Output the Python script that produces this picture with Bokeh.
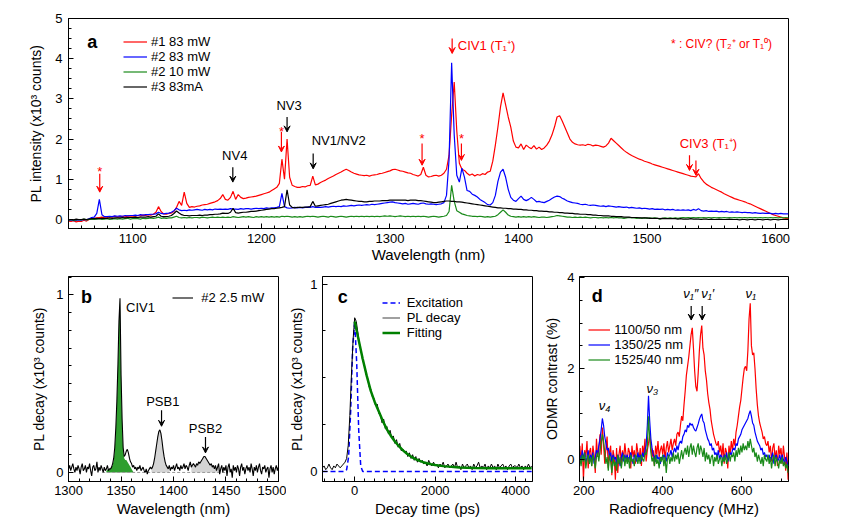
from bokeh.plotting import figure
from bokeh.models import (ColumnDataSource, Legend, LegendItem, Label, Arrow,
                          VeeHead, SingleIntervalTicker, Range1d)
from bokeh.layouts import column, row
from bokeh.embed import file_html
from bokeh.resources import INLINE

FONT = "Liberation Sans"
RED, BLUE, GREEN, BLACK = "#ff0000", "#0000ff", "#1a8a1a", "#000000"

# ---------------- panel a : PL spectra (x = wavelength, nm, 2 nm steps) ----------------
wl_a = list(range(1050, 1611, 2))
pl1_83mw = [
    -0.04, -0.05, -0.03, -0.06, -0.04,  -0.05, -0.02, -0.04, 0.00, 0.02,
    0.03, 0.04, 0.05, 0.06, 0.04,  0.05, 0.07, 0.06, 0.08, 0.06,
    0.07, 0.08, 0.06, 0.09, 0.08,  0.09, 0.08, 0.10, 0.09, 0.11,
    0.10, 0.12, 0.11, 0.13, 0.18,  0.32, 0.20, 0.14, 0.13, 0.15,
    0.16, 0.20, 0.30, 0.45, 0.35,  0.68, 0.40, 0.30, 0.32, 0.31,
    0.33, 0.34, 0.36, 0.37, 0.38,  0.40, 0.42, 0.44, 0.47, 0.52,
    0.62, 0.50, 0.48, 0.55, 0.70,  0.50, 0.62, 0.55, 0.52, 0.53,
    0.55, 0.56, 0.57, 0.58, 0.60,  0.62, 0.64, 0.66, 0.68, 0.72,
    0.76, 0.80, 0.90, 1.50, 1.00,  2.00, 1.05, 0.85, 0.82, 0.80,
    0.80, 0.82, 0.81, 0.84, 0.85,  1.08, 0.86, 0.88, 0.92, 0.95,
    0.98, 1.02, 1.05, 1.08, 1.12,  1.15, 1.18, 1.22, 1.25, 1.22,
    1.18, 1.15, 1.13, 1.11, 1.10,  1.09, 1.10, 1.08, 1.10, 1.11,
    1.12, 1.14, 1.15, 1.17, 1.19,  1.21, 1.24, 1.25, 1.23, 1.21,
    1.20, 1.18, 1.16, 1.15, 1.12,  1.10, 1.08, 1.12, 1.30, 1.10,
    1.06, 1.07, 1.09, 1.10, 1.08,  1.10, 1.15, 1.25, 1.60, 2.60,
    3.42, 2.20, 1.40, 1.25, 1.22,  1.15, 1.10, 1.13, 1.08, 1.12,
    1.10, 1.14, 1.12, 1.18, 1.20,  1.45, 1.85, 2.30, 2.80, 3.15,
    2.85, 2.55, 2.30, 1.95, 1.80,  1.78, 1.88, 1.74, 1.85, 1.80,
    1.76, 1.84, 1.75, 1.80, 1.74,  1.78, 1.85, 1.95, 2.10, 2.30,
    2.55, 2.58, 2.45, 2.30, 2.15,  2.00, 1.92, 1.88, 1.86, 1.85,
    1.86, 1.84, 1.87, 1.86, 1.83,  1.85, 1.84, 1.82, 1.80, 1.83,
    1.90, 2.02, 1.96, 1.90, 1.84,  1.78, 1.72, 1.67, 1.63, 1.59,
    1.56, 1.53, 1.50, 1.48, 1.45,  1.43, 1.41, 1.38, 1.36, 1.34,
    1.32, 1.30, 1.28, 1.26, 1.24,  1.22, 1.20, 1.18, 1.16, 1.14,
    1.12, 1.10, 1.08, 1.07, 1.06,  1.14, 1.02, 0.94, 0.88, 0.84,
    0.80, 0.77, 0.74, 0.71, 0.68,  0.64, 0.61, 0.58, 0.55, 0.52,
    0.50, 0.48, 0.46, 0.44, 0.41,  0.39, 0.36, 0.33, 0.30, 0.27,
    0.24, 0.21, 0.18, 0.15, 0.12,  0.10, 0.08, 0.06, 0.04, 0.03,
    0.02]
pl2_83mw = [
    -0.02, -0.01, -0.03, -0.02, -0.01,  -0.02, 0.00, -0.01, 0.02, 0.05,
    0.06, 0.15, 0.50, 0.12, 0.07,  0.07, 0.08, 0.07, 0.09, 0.08,
    0.09, 0.08, 0.10, 0.09, 0.10,  0.10, 0.11, 0.10, 0.12, 0.11,
    0.12, 0.12, 0.13, 0.13, 0.14,  0.18, 0.15, 0.14, 0.15, 0.16,
    0.18, 0.22, 0.28, 0.24, 0.22,  0.23, 0.22, 0.24, 0.23, 0.24,
    0.25, 0.24, 0.23, 0.25, 0.24,  0.25, 0.24, 0.26, 0.25, 0.26,
    0.25, 0.26, 0.25, 0.27, 0.26,  0.26, 0.25, 0.27, 0.26, 0.27,
    0.27, 0.26, 0.27, 0.28, 0.27,  0.28, 0.27, 0.29, 0.28, 0.29,
    0.29, 0.30, 0.32, 0.65, 0.32,  0.29, 0.28, 0.29, 0.30, 0.29,
    0.30, 0.29, 0.30, 0.31, 0.30,  0.32, 0.30, 0.31, 0.30, 0.31,
    0.32, 0.31, 0.32, 0.33, 0.32,  0.33, 0.32, 0.34, 0.33, 0.34,
    0.35, 0.34, 0.35, 0.36, 0.35,  0.36, 0.37, 0.36, 0.38, 0.37,
    0.38, 0.39, 0.40, 0.41, 0.42,  0.43, 0.44, 0.42, 0.41, 0.40,
    0.39, 0.40, 0.38, 0.39, 0.40,  0.39, 0.38, 0.40, 0.41, 0.39,
    0.38, 0.39, 0.38, 0.37, 0.38,  0.39, 0.42, 0.60, 1.50, 3.90,
    2.10, 1.10, 0.93, 1.28, 1.05,  0.72, 0.70, 0.63, 0.60, 0.56,
    0.50, 0.46, 0.42, 0.37, 0.36,  0.42, 0.60, 0.95, 1.18, 1.25,
    1.05, 0.75, 0.55, 0.48, 0.45,  0.52, 0.58, 0.50, 0.47, 0.50,
    0.55, 0.50, 0.44, 0.45, 0.43,  0.42, 0.45, 0.48, 0.52, 0.56,
    0.58, 0.57, 0.53, 0.50, 0.46,  0.44, 0.42, 0.41, 0.40, 0.38,
    0.37, 0.38, 0.36, 0.35, 0.36,  0.35, 0.34, 0.33, 0.34, 0.32,
    0.34, 0.33, 0.32, 0.31, 0.32,  0.31, 0.30, 0.31, 0.29, 0.30,
    0.29, 0.28, 0.29, 0.27, 0.28,  0.27, 0.26, 0.27, 0.25, 0.26,
    0.25, 0.26, 0.24, 0.25, 0.24,  0.25, 0.23, 0.24, 0.23, 0.24,
    0.23, 0.24, 0.22, 0.25, 0.23,  0.27, 0.22, 0.21, 0.22, 0.20,
    0.21, 0.20, 0.21, 0.19, 0.20,  0.19, 0.20, 0.18, 0.19, 0.18,
    0.19, 0.18, 0.17, 0.18, 0.17,  0.17, 0.16, 0.17, 0.16, 0.15,
    0.16, 0.15, 0.16, 0.15, 0.14,  0.15, 0.14, 0.15, 0.14, 0.14,
    0.14]
pl2_10mw = [
    -0.02, 0.00, -0.02, -0.01, 0.00,  -0.01, 0.01, -0.01, 0.00, 0.01,
    0.00, 0.01, 0.02, 0.00, 0.01,  0.02, 0.00, 0.01, 0.02, 0.01,
    0.02, 0.01, 0.02, 0.03, 0.01,  0.02, 0.03, 0.02, 0.01, 0.03,
    0.02, 0.03, 0.04, 0.03, 0.04,  0.06, 0.03, 0.04, 0.03, 0.04,
    0.04, 0.06, 0.08, 0.05, 0.04,  0.05, 0.04, 0.05, 0.04, 0.05,
    0.05, 0.04, 0.06, 0.05, 0.04,  0.05, 0.06, 0.05, 0.06, 0.05,
    0.06, 0.05, 0.06, 0.05, 0.07,  0.06, 0.05, 0.06, 0.07, 0.06,
    0.07, 0.06, 0.05, 0.07, 0.06,  0.07, 0.06, 0.07, 0.06, 0.07,
    0.06, 0.07, 0.06, 0.08, 0.07,  0.08, 0.07, 0.06, 0.07, 0.06,
    0.07, 0.06, 0.07, 0.08, 0.07,  0.08, 0.07, 0.06, 0.07, 0.08,
    0.07, 0.06, 0.08, 0.07, 0.06,  0.07, 0.08, 0.07, 0.06, 0.07,
    0.08, 0.07, 0.08, 0.07, 0.08,  0.07, 0.08, 0.07, 0.08, 0.07,
    0.08, 0.07, 0.08, 0.09, 0.08,  0.09, 0.08, 0.07, 0.08, 0.09,
    0.08, 0.07, 0.08, 0.07, 0.08,  0.07, 0.08, 0.07, 0.08, 0.07,
    0.06, 0.07, 0.08, 0.07, 0.06,  0.07, 0.08, 0.10, 0.20, 0.85,
    0.45, 0.22, 0.18, 0.14, 0.12,  0.10, 0.09, 0.08, 0.08, 0.07,
    0.08, 0.07, 0.06, 0.07, 0.06,  0.07, 0.08, 0.12, 0.18, 0.24,
    0.18, 0.11, 0.08, 0.07, 0.06,  0.07, 0.06, 0.07, 0.06, 0.07,
    0.06, 0.07, 0.06, 0.05, 0.06,  0.06, 0.05, 0.06, 0.07, 0.08,
    0.10, 0.09, 0.08, 0.07, 0.06,  0.06, 0.05, 0.06, 0.05, 0.06,
    0.05, 0.06, 0.05, 0.04, 0.05,  0.05, 0.04, 0.05, 0.04, 0.05,
    0.04, 0.05, 0.04, 0.05, 0.04,  0.04, 0.03, 0.04, 0.05, 0.04,
    0.04, 0.03, 0.04, 0.03, 0.04,  0.03, 0.04, 0.03, 0.04, 0.03,
    0.01, 0.03, 0.04, 0.03, 0.04,  0.03, 0.04, 0.03, 0.04, 0.05,
    0.04, 0.05, 0.04, 0.05, 0.04,  0.05, 0.04, 0.05, 0.04, 0.05,
    0.04, 0.05, 0.04, 0.05, 0.04,  0.05, 0.04, 0.05, 0.04, 0.05,
    0.04, 0.05, 0.04, 0.05, 0.04,  0.05, 0.04, 0.05, 0.04, 0.05,
    0.04, 0.05, 0.04, 0.05, 0.04,  0.05, 0.04, 0.05, 0.04, 0.05,
    0.04]
pl3_83ma = [
    -0.01, 0.00, -0.01, 0.01, 0.00,  0.00, 0.01, 0.00, 0.01, 0.02,
    0.02, 0.03, 0.02, 0.03, 0.03,  0.03, 0.04, 0.03, 0.04, 0.04,
    0.04, 0.05, 0.04, 0.05, 0.05,  0.05, 0.06, 0.05, 0.06, 0.06,
    0.06, 0.07, 0.06, 0.07, 0.08,  0.14, 0.08, 0.07, 0.07, 0.08,
    0.10, 0.15, 0.21, 0.16, 0.12,  0.10, 0.10, 0.09, 0.10, 0.10,
    0.10, 0.11, 0.10, 0.11, 0.11,  0.12, 0.12, 0.13, 0.13, 0.14,
    0.16, 0.15, 0.15, 0.18, 0.28,  0.17, 0.16, 0.17, 0.18, 0.18,
    0.19, 0.20, 0.20, 0.21, 0.22,  0.23, 0.24, 0.25, 0.26, 0.27,
    0.27, 0.28, 0.29, 0.30, 0.32,  0.74, 0.36, 0.30, 0.29, 0.30,
    0.30, 0.30, 0.31, 0.31, 0.32,  0.45, 0.33, 0.34, 0.35, 0.36,
    0.37, 0.38, 0.40, 0.42, 0.44,  0.46, 0.48, 0.49, 0.50, 0.49,
    0.48, 0.47, 0.46, 0.45, 0.45,  0.44, 0.44, 0.45, 0.45, 0.46,
    0.46, 0.46, 0.47, 0.47, 0.47,  0.48, 0.48, 0.48, 0.48, 0.48,
    0.48, 0.48, 0.47, 0.48, 0.48,  0.48, 0.47, 0.47, 0.46, 0.45,
    0.44, 0.43, 0.42, 0.42, 0.43,  0.44, 0.45, 0.46, 0.46, 0.45,
    0.45, 0.44, 0.44, 0.43, 0.42,  0.41, 0.40, 0.39, 0.38, 0.37,
    0.36, 0.35, 0.34, 0.33, 0.32,  0.31, 0.30, 0.29, 0.29, 0.28,
    0.28, 0.27, 0.27, 0.26, 0.26,  0.25, 0.25, 0.24, 0.24, 0.23,
    0.23, 0.22, 0.22, 0.21, 0.21,  0.20, 0.20, 0.19, 0.19, 0.18,
    0.18, 0.17, 0.17, 0.16, 0.16,  0.15, 0.15, 0.14, 0.14, 0.13,
    0.13, 0.13, 0.12, 0.12, 0.11,  0.11, 0.10, 0.10, 0.09, 0.09,
    0.09, 0.08, 0.08, 0.07, 0.07,  0.07, 0.06, 0.06, 0.06, 0.05,
    0.05, 0.05, 0.04, 0.04, 0.04,  0.04, 0.03, 0.03, 0.03, 0.03,
    0.02, 0.03, 0.02, 0.02, 0.02,  0.02, 0.02, 0.01, 0.02, 0.01,
    0.01, 0.01, 0.02, 0.01, 0.01,  0.01, 0.00, 0.01, 0.01, 0.00,
    0.01, 0.00, 0.00, 0.01, 0.00,  0.00, 0.00, 0.01, 0.00, 0.00,
    0.00, -0.01, 0.00, 0.00, -0.01,  0.00, 0.00, -0.01, 0.00, 0.00,
    -0.01, 0.00, 0.00, -0.01, 0.00,  0.00, -0.01, 0.00, 0.00, 0.00,
    0.00]
a_series = ["#1 83 mW", "#2 83 mW", "#2 10 mW", "#3 83mA"]
# annotations of panel a: (x nm, y, text, color, font size)
a_texts = [
    (1179.3, 1.58, "NV4", BLACK, "13px"),
    (1221.6, 2.84, "NV3", BLACK, "13px"),
    (1260.2, 1.97, "NV1/NV2", BLACK, "13px"),
    (1547.7, 1.89, "CIV3 (T\u2081\u207a)", RED, "13px"),
    (1558.0, 4.37, "* : CIV? (T\u2082\u207a or T\u2081\u2070)", RED, "12px"),
    (1074.3, 1.20, "*", RED, "13px"),
    (1215.6, 2.20, "*", RED, "13px"),
    (1325.0, 2.01, "*", RED, "13px"),
    (1355.6, 2.01, "*", RED, "13px"),
]
a_civ1_label = (1352.8, 4.32, "CIV1 (T\u2081\u207a)")
# arrows of panel a: (x nm, y start, y end, color)
a_arrows = [
    (1074.3, 1.14, 0.68, RED), (1177.8, 1.30, 0.93, BLACK),
    (1220.0, 2.55, 2.18, BLACK), (1215.6, 2.18, 1.68, RED),
    (1240.3, 1.64, 1.26, BLACK), (1325.0, 1.89, 1.35, RED),
    (1355.6, 1.89, 1.47, RED), (1348.4, 4.50, 4.13, RED),
    (1533.0, 1.60, 1.22, RED), (1538.0, 1.47, 1.10, RED),
]

# ---------------- panel b : spectrum #2 2.5 mW (1 nm steps) ----------------
wl_b = list(range(1300, 1501))
pl2_25mw = [
    0.02, 0.04, 0.01, 0.03, 0.05, 0.02, 0.00, 0.03, 0.01, 0.04,
    0.02, -0.01, 0.03, 0.05, 0.01, 0.02, 0.04, 0.00, 0.03, 0.02,
    0.05, 0.01, -0.02, 0.03, 0.04, 0.01, 0.02, 0.06, 0.00, 0.03,
    0.01, 0.04, 0.02, 0.00, 0.03, 0.01, 0.02, 0.04, 0.01, 0.02,
    0.02, 0.03, 0.05, 0.08, 0.14, 0.25, 0.40, 0.60, 0.85, 0.98,
    0.55, 0.30, 0.14, 0.09, 0.10, 0.12, 0.13, 0.11, 0.08, 0.06,
    0.05, 0.03, 0.04, 0.02, 0.03, 0.01, 0.03, 0.02, 0.04, 0.01,
    0.02, 0.03, 0.01, 0.00, 0.02, -0.01, 0.01, 0.02, 0.03, 0.02,
    0.03, 0.05, 0.08, 0.12, 0.16, 0.20, 0.23, 0.24, 0.22, 0.18,
    0.13, 0.09, 0.06, 0.04, 0.03, 0.02, 0.04, 0.01, 0.03, 0.02,
    0.04, 0.01, 0.03, 0.05, 0.02, 0.03, 0.01, 0.04, 0.02, 0.03,
    0.05, 0.02, 0.04, 0.03, 0.01, 0.04, 0.06, 0.03, 0.04, 0.05,
    0.04, 0.03, 0.05, 0.04, 0.06, 0.05, 0.06, 0.07, 0.08, 0.09,
    0.09, 0.08, 0.07, 0.06, 0.05, 0.04, 0.05, 0.03, 0.04, 0.02,
    0.04, 0.01, 0.03, 0.05, -0.01, 0.02, 0.04, 0.00, 0.03, 0.01,
    0.04, -0.02, 0.03, 0.05, 0.00, 0.02, -0.03, 0.04, 0.01, 0.03,
    0.00, 0.04, 0.02, -0.02, 0.03, 0.05, 0.01, 0.03, -0.01, 0.02,
    0.04, 0.01, 0.03, 0.00, 0.05, 0.02, -0.02, 0.03, 0.01, 0.04,
    0.00, 0.03, 0.05, 0.01, -0.01, 0.03, 0.02, 0.04, 0.00, 0.02,
    0.03, -0.03, 0.02, 0.04, 0.00, 0.03, -0.01, 0.02, 0.04, 0.01,
    0.03]
civ1_wl = list(range(1336, 1363))
civ1_zpl = [0.01, 0.015, 0.02, 0.02, 0.02, 0.03, 0.04, 0.07, 0.13, 0.24, 0.39, 0.59,
            0.84, 0.97, 0.54, 0.29, 0.13, 0.08, 0.07, 0.07, 0.06, 0.05, 0.04, 0.03,
            0.02, 0.01, 0.0]
psb_windows = [(1379, 1396), (1417, 1445)]
b_zero_x = [1332, 1452]
b_texts = [(1368.6, 0.93, "CIV1"), (1389.8, 0.40, "PSB1"), (1430.5, 0.25, "PSB2")]
b_arrows = [(1388.6, 0.35, 0.26), (1430.5, 0.20, 0.11)]

# ---------------- panel c : time-resolved PL ----------------
t_c = list(range(-800, 4401, 40))
pl_decay = [
    0.02, 0.03, 0.01, 0.02, 0.04, 0.02, 0.01, 0.03, 0.02, 0.04,
    0.03, 0.02, 0.03, 0.04, 0.05, 0.07, 0.14, 0.30, 0.52, 0.70,
    0.82, 0.80, 0.74, 0.68, 0.64, 0.59, 0.57, 0.52, 0.50, 0.45,
    0.44, 0.40, 0.39, 0.35, 0.36, 0.31, 0.30, 0.26, 0.28, 0.23,
    0.24, 0.20, 0.22, 0.18, 0.19, 0.15, 0.17, 0.13, 0.15, 0.11,
    0.12, 0.10, 0.11, 0.08, 0.10, 0.07, 0.09, 0.06, 0.08, 0.05,
    0.07, 0.05, 0.06, 0.04, 0.05, 0.03, 0.06, 0.04, 0.03, 0.05,
    0.03, 0.04, 0.02, 0.04, 0.03, 0.05, 0.02, 0.03, 0.04, 0.02,
    0.03, 0.04, 0.02, 0.05, 0.02, 0.03, 0.01, 0.04, 0.02, 0.03,
    0.04, 0.02, 0.03, 0.01, 0.04, 0.02, 0.03, 0.05, 0.02, 0.03,
    0.02, 0.04, 0.01, 0.03, 0.02, 0.04, 0.02, 0.03, 0.01, 0.04,
    0.02, 0.03, 0.04, 0.02, 0.03, 0.01, 0.03, 0.04, 0.02, 0.03,
    0.03, 0.02, 0.04, 0.02, 0.03, 0.01, 0.03, 0.02, 0.04, 0.02,
    0.03]
exc_t = [-800, -250, -200, -150, -100, -50, 0, 50, 100, 150, 200, 4400]
exc_v = [0.0, 0.0, 0.01, 0.08, 0.32, 0.66, 0.80, 0.58, 0.22, 0.03, 0.0, 0.0]
fit_t = [0, 100, 200, 300, 400, 500, 600, 700, 800, 900, 1000, 1100, 1200, 1300, 1400,
         1500, 1600, 1700, 1800, 1900, 2000, 2200, 2400, 2600, 2800, 3000, 3400, 3800, 4400]
fit_v = [0.80, 0.70, 0.60, 0.51, 0.43, 0.37, 0.32, 0.27, 0.225, 0.19, 0.16, 0.135, 0.113,
         0.095, 0.080, 0.068, 0.058, 0.050, 0.044, 0.039, 0.035, 0.029, 0.025, 0.022,
         0.020, 0.019, 0.018, 0.018, 0.018]
c_series = ["Excitation", "PL decay", "Fitting"]

# ---------------- panel d : ODMR (3 MHz steps) ----------------
rf = list(range(190, 719, 3))
odmr_1100 = [
    0.30, -0.10, 0.35, -0.45, 0.20, 0.05, 0.40, -0.20, 0.15, 0.25,
    -0.15, 0.30, 0.10, -0.30, 0.45, 0.05, 0.20, 0.55, 0.10, 0.70,
    0.35, -0.10, 0.25, 0.50, -0.20, 0.15, 0.30, -0.35, 0.20, 0.05,
    -0.45, 0.25, -0.30, 0.10, 0.30, -0.15, 0.20, 0.00, 0.35, 0.10,
    -0.05, 0.25, 0.15, -0.20, 0.30, 0.05, 0.20, -0.10, 0.35, 0.15,
    0.00, 0.25, -0.15, 0.30, 0.10, 0.45, -0.05, 0.20, 0.35, 0.55,
    0.30, 0.05, 0.20, -0.15, 0.30, 0.10, 0.40, 0.05, 0.20, 0.30,
    0.10, 0.35, 0.00, 0.25, 0.40, 0.15, 0.30, 0.45, 0.20, 0.35,
    0.45, 0.30, 0.55, 0.60, 0.50, 0.75, 0.95, 0.85, 1.20, 1.50,
    1.85, 2.05, 2.25, 2.50, 2.75, 2.90, 2.45, 1.95, 1.60, 1.50,
    1.90, 2.40, 2.75, 2.95, 2.45, 2.30, 1.95, 1.75, 1.45, 1.25,
    1.10, 0.85, 0.70, 0.55, 0.45, 0.35, 0.30, 0.40, 0.15, 0.30,
    0.05, 0.35, -0.10, 0.25, 0.15, -0.20, 0.30, 0.10, 0.40, 0.20,
    0.45, 0.30, 0.60, 0.75, 0.95, 1.15, 1.30, 1.55, 1.80, 2.00,
    2.05, 1.95, 2.40, 3.10, 3.44, 2.50, 2.30, 2.35, 2.00, 1.55,
    1.20, 0.95, 0.80, 0.70, 0.60, 0.45, 0.50, 0.35, 0.30, 0.40,
    0.15, 0.30, -0.05, 0.25, 0.35, 0.00, 0.20, -0.15, 0.30, 0.10,
    0.25, -0.10, 0.30, 0.05, -0.25, 0.15, -0.45]
odmr_1350 = [
    0.10, -0.05, 0.20, 0.00, 0.15, -0.10, 0.05, 0.20, -0.05, 0.10,
    0.00, 0.15, -0.10, 0.05, 0.20, 0.10, 0.30, 0.45, 0.65, 0.90,
    0.75, 0.50, 0.35, 0.20, 0.25, 0.05, 0.15, -0.05, 0.10, 0.00,
    0.05, -0.10, 0.10, 0.00, -0.15, 0.05, 0.15, -0.05, 0.10, 0.00,
    0.10, -0.05, 0.05, 0.15, 0.00, -0.10, 0.10, 0.05, -0.05, 0.15,
    0.00, 0.10, -0.05, 0.15, 0.05, 0.20, 0.30, 0.75, 1.40, 0.85,
    0.45, 0.25, 0.10, 0.05, -0.05, 0.10, 0.00, 0.05, -0.10, 0.05,
    0.00, 0.10, 0.05, -0.05, 0.15, 0.05, 0.10, 0.20, 0.05, 0.15,
    0.25, 0.15, 0.30, 0.20, 0.35, 0.40, 0.35, 0.50, 0.55, 0.65,
    0.60, 0.75, 0.70, 0.80, 0.75, 0.78, 0.70, 0.65, 0.62, 0.70,
    0.78, 0.88, 0.95, 1.00, 0.85, 0.80, 0.65, 0.55, 0.45, 0.40,
    0.30, 0.35, 0.20, 0.25, 0.10, 0.15, 0.05, 0.20, 0.00, 0.10,
    0.05, -0.05, 0.10, 0.00, 0.15, -0.05, 0.05, 0.15, 0.10, 0.20,
    0.25, 0.20, 0.35, 0.30, 0.45, 0.50, 0.55, 0.65, 0.70, 0.75,
    0.80, 0.85, 0.90, 1.00, 1.07, 0.95, 0.80, 0.75, 0.60, 0.50,
    0.40, 0.35, 0.30, 0.20, 0.25, 0.10, 0.15, 0.05, 0.10, 0.00,
    0.10, -0.05, 0.05, 0.15, -0.10, 0.05, 0.10, -0.05, 0.00, 0.10,
    -0.05, 0.10, 0.00, -0.10, 0.05, -0.05, -0.15]
odmr_1525 = [
    0.05, -0.15, 0.10, -0.05, 0.15, -0.20, 0.00, 0.10, -0.10, 0.05,
    -0.15, 0.10, 0.00, -0.20, 0.05, 0.15, -0.05, 0.20, 0.35, 0.55,
    0.40, 0.15, -0.10, 0.05, -0.25, 0.10, -0.05, -0.30, 0.05, -0.15,
    -0.05, -0.25, 0.10, -0.10, 0.05, -0.20, 0.00, 0.10, -0.15, 0.05,
    -0.10, 0.05, -0.20, 0.10, -0.05, 0.00, -0.15, 0.10, 0.05, -0.10,
    0.05, -0.10, 0.10, 0.00, -0.05, 0.15, 0.10, 0.30, 0.95, 0.45,
    0.15, -0.05, 0.05, -0.15, 0.10, -0.10, 0.00, -0.20, 0.05, -0.05,
    0.10, -0.15, 0.05, -0.30, 0.00, 0.10, -0.10, 0.05, -0.05, 0.15,
    -0.05, 0.10, 0.00, 0.15, -0.10, 0.05, 0.20, 0.00, 0.15, 0.25,
    0.10, 0.30, 0.05, 0.25, 0.35, 0.10, 0.30, 0.15, 0.05, 0.25,
    0.35, 0.10, 0.30, 0.20, 0.05, 0.25, -0.05, 0.15, 0.00, 0.10,
    -0.10, 0.05, 0.10, -0.15, 0.05, -0.05, 0.10, -0.10, 0.00, 0.05,
    -0.15, 0.05, -0.05, 0.10, -0.10, 0.00, 0.15, -0.05, 0.10, 0.05,
    0.15, -0.05, 0.20, 0.05, 0.25, 0.10, 0.30, 0.15, 0.35, 0.20,
    0.30, 0.20, 0.40, 0.25, 0.45, 0.30, 0.15, 0.25, 0.05, 0.15,
    -0.05, 0.10, 0.00, -0.10, 0.05, -0.15, 0.10, 0.00, -0.05, 0.10,
    -0.10, 0.05, -0.20, 0.00, 0.10, -0.15, 0.05, -0.05, -0.20, 0.00,
    -0.10, 0.05, -0.15, -0.05, -0.20, -0.10, -0.30]
d_series = ["1100/50 nm", "1350/25 nm", "1525/40 nm"]
# (x MHz of left edge, y, text)
d_texts = [(452.0, 3.66, "\u03bd\u2081\u2033"), (497.6, 3.66, "\u03bd\u2081\u2032"),
           (610.0, 3.66, "\u03bd\u2081"), (238.0, 1.19, "\u03bd\u2084"),
           (359.0, 1.57, "\u03bd\u2083")]
d_arrows = [(472.2, 3.38, 3.07), (500.1, 3.38, 3.07)]

for name, xs, ys in [("a1", wl_a, pl1_83mw), ("a2", wl_a, pl2_83mw), ("a3", wl_a, pl2_10mw),
                     ("a4", wl_a, pl3_83ma), ("b", wl_b, pl2_25mw), ("bz", civ1_wl, civ1_zpl),
                     ("c", t_c, pl_decay), ("ce", exc_t, exc_v), ("cf", fit_t, fit_v),
                     ("d1", rf, odmr_1100), ("d2", rf, odmr_1350), ("d3", rf, odmr_1525)]:
    if len(xs) != len(ys):
        raise ValueError(f"{name}: {len(xs)} x vs {len(ys)} y")


def make_fig(w, h, l, r, t, b, xr, yr):
    p = figure(width=w, height=h, x_range=Range1d(*xr), y_range=Range1d(*yr),
               output_backend="svg", toolbar_location=None, tools="")
    p.min_border_left, p.min_border_right = l, r
    p.min_border_top, p.min_border_bottom = t, b
    p.grid.visible = False
    p.outline_line_color = "black"
    p.outline_line_alpha = 1.0
    p.outline_line_width = 1
    p.background_fill_color = "white"
    p.border_fill_color = "white"
    return p


def style_axes(p, xlabel, ylabel, xint, xminor, yint, yminor,
               xstand=(4, 2), ystand=(5, 4)):
    p.xaxis.ticker = SingleIntervalTicker(interval=xint, num_minor_ticks=xminor)
    p.yaxis.ticker = SingleIntervalTicker(interval=yint, num_minor_ticks=yminor)
    p.xaxis.axis_label = xlabel
    p.yaxis.axis_label = ylabel
    for ax in (p.xaxis[0], p.yaxis[0]):
        ax.major_tick_in, ax.major_tick_out = 5, 0
        ax.minor_tick_in, ax.minor_tick_out = 3, 0
        ax.axis_line_color = "black"
        ax.major_tick_line_color = "black"
        ax.minor_tick_line_color = "black"
        ax.major_label_text_font = FONT
        ax.major_label_text_font_size = "13px"
        ax.major_label_text_color = "black"
        ax.axis_label_text_font = FONT
        ax.axis_label_text_font_style = "normal"
        ax.axis_label_text_color = "black"
    p.xaxis.axis_label_text_font_size = "15px"
    p.yaxis.axis_label_text_font_size = "14px"
    p.xaxis.major_label_standoff, p.xaxis.axis_label_standoff = xstand
    p.yaxis.major_label_standoff, p.yaxis.axis_label_standoff = ystand


def text(p, x, y, s, color=BLACK, size="13px", align="center", style="normal"):
    p.add_layout(Label(x=x, y=y, text=s, text_font=FONT, text_font_size=size,
                       text_color=color, text_align=align, text_baseline="middle",
                       text_font_style=style))


def arrow(p, x, y0, y1, color=BLACK):
    p.add_layout(Arrow(end=VeeHead(size=6, fill_color=color, line_color=color, line_width=1),
                       x_start=x, y_start=y0, x_end=x, y_end=y1,
                       line_color=color, line_width=1.2))


def legend(p, items, vx, vy, gw, standoff):
    lg = Legend(items=items, location=(vx, vy), glyph_width=gw, glyph_height=15,
                label_height=15, label_standoff=standoff, spacing=0, padding=0,
                margin=0, border_line_color=None, background_fill_alpha=0,
                label_text_font=FONT, label_text_font_size="13px",
                label_text_color="black")
    p.add_layout(lg)


# ---------------- panel a ----------------
pa = make_fig(846, 265, 68, 58, 18, 37, (1050, 1610), (-0.224, 5.0))
style_axes(pa, "Wavelength (nm)", "PL intensity (x10\u00b3 counts)", 100, 10, 1, 4,
           xstand=(5, 0), ystand=(6, 8))
ra = []
for ys, col in zip([pl1_83mw, pl2_83mw, pl2_10mw, pl3_83ma], [RED, BLUE, GREEN, BLACK]):
    ra.append(pa.line(wl_a, ys, line_color=col, line_width=1.2))
legend(pa, [LegendItem(label=l, renderers=[r]) for l, r in zip(a_series, ra)], 55, 133.8, 24, 4)
for x, y, s, col, fs in a_texts:
    text(pa, x, y, s, col, fs)
text(pa, a_civ1_label[0], a_civ1_label[1], a_civ1_label[2], RED, "13px", align="left")
for x, y0, y1, col in a_arrows:
    arrow(pa, x, y0, y1, col)
text(pa, 1068.4, 4.42, "a", BLACK, "18px", style="bold")

# ---------------- panel b ----------------
pb = make_fig(286, 267, 68, 8, 11, 51, (1299.9, 1500.1), (-0.051, 1.103))
style_axes(pb, "Wavelength (nm)", "PL decay (x10\u00b3 counts)", 50, 5, 1, 10,
           xstand=(4, 2), ystand=(5, 6))
for lo, hi in psb_windows:
    xs = [x for x in wl_b if lo <= x <= hi]
    ys = [max(v, 0.0) for x, v in zip(wl_b, pl2_25mw) if lo <= x <= hi]
    pb.varea(x=xs, y1=0, y2=ys, fill_color="#d4d4d4")
pb.varea(x=civ1_wl, y1=0, y2=civ1_zpl, fill_color="#2e9e2e")
pb.line(b_zero_x, [0, 0], line_color="#999999", line_dash="3 2", line_width=1)
rb = pb.line(wl_b, pl2_25mw, line_color=BLACK, line_width=1.1)
legend(pb, [LegendItem(label="#2 2.5 mW", renderers=[rb])], 104.3, 175.9, 21, 8)
for x, y, s in b_texts:
    text(pb, x, y, s)
for x, y0, y1 in b_arrows:
    arrow(pb, x, y0, y1)
text(pb, 1317.1, 0.99, "b", BLACK, "18px", style="bold")

# ---------------- panel c ----------------
pc = make_fig(250, 267, 36, 4, 11, 51, (-800, 4420), (-0.053, 1.04))
style_axes(pc, "Decay time (ps)", "PL decay (x10\u00b3 counts)", 2000, 8, 1, 4,
           xstand=(4, 2), ystand=(5, 2))
r_exc = pc.line(exc_t, exc_v, line_color=BLUE, line_dash="5 3", line_width=1.5)
r_pl = pc.line(t_c, pl_decay, line_color=BLACK, line_width=1.0)
r_fit = pc.line(fit_t, fit_v, line_color="#008000", line_width=2.5)
# legend key only (drawn outside the visible range)
key_src = ColumnDataSource(data=dict(x=[-5000, -4000], y=[-5, -5]))
r_pl_key = pc.line("x", "y", source=key_src, line_color="#808080", line_width=1.5)
legend(pc, [LegendItem(label=c_series[0], renderers=[r_exc]),
            LegendItem(label=c_series[1], renderers=[r_pl_key]),
            LegendItem(label=c_series[2], renderers=[r_fit])], 59.7, 141.5, 18, 7)
text(pc, -298, 0.93, "c", BLACK, "18px", style="bold")

# ---------------- panel d ----------------
pd_ = make_fig(310, 267, 43, 58, 11, 51, (189, 719), (-0.49, 4.03))
style_axes(pd_, "Radiofrequency (MHz)", "ODMR contrast (%)", 200, 4, 2, 4,
           xstand=(4, 2), ystand=(5, 4))
rd = []
for ys, col in zip([odmr_1100, odmr_1350, odmr_1525], [RED, BLUE, GREEN]):
    rd.append(pd_.line(rf, ys, line_color=col, line_width=1.2))
legend(pd_, [LegendItem(label=l, renderers=[r]) for l, r in zip(d_series, rd)], 9.3, 113.9, 22, 4)
for x, y, s in d_texts:
    text(pd_, x, y, s, BLACK, "13px", align="left", style="italic")
for x, y0, y1 in d_arrows:
    arrow(pd_, x, y0, y1)
text(pd_, 234, 3.59, "d", BLACK, "18px", style="bold")

layout = column(pa, row(pb, pc, pd_, spacing=0), spacing=0)
open("out.html", "w").write(file_html(layout, INLINE))
